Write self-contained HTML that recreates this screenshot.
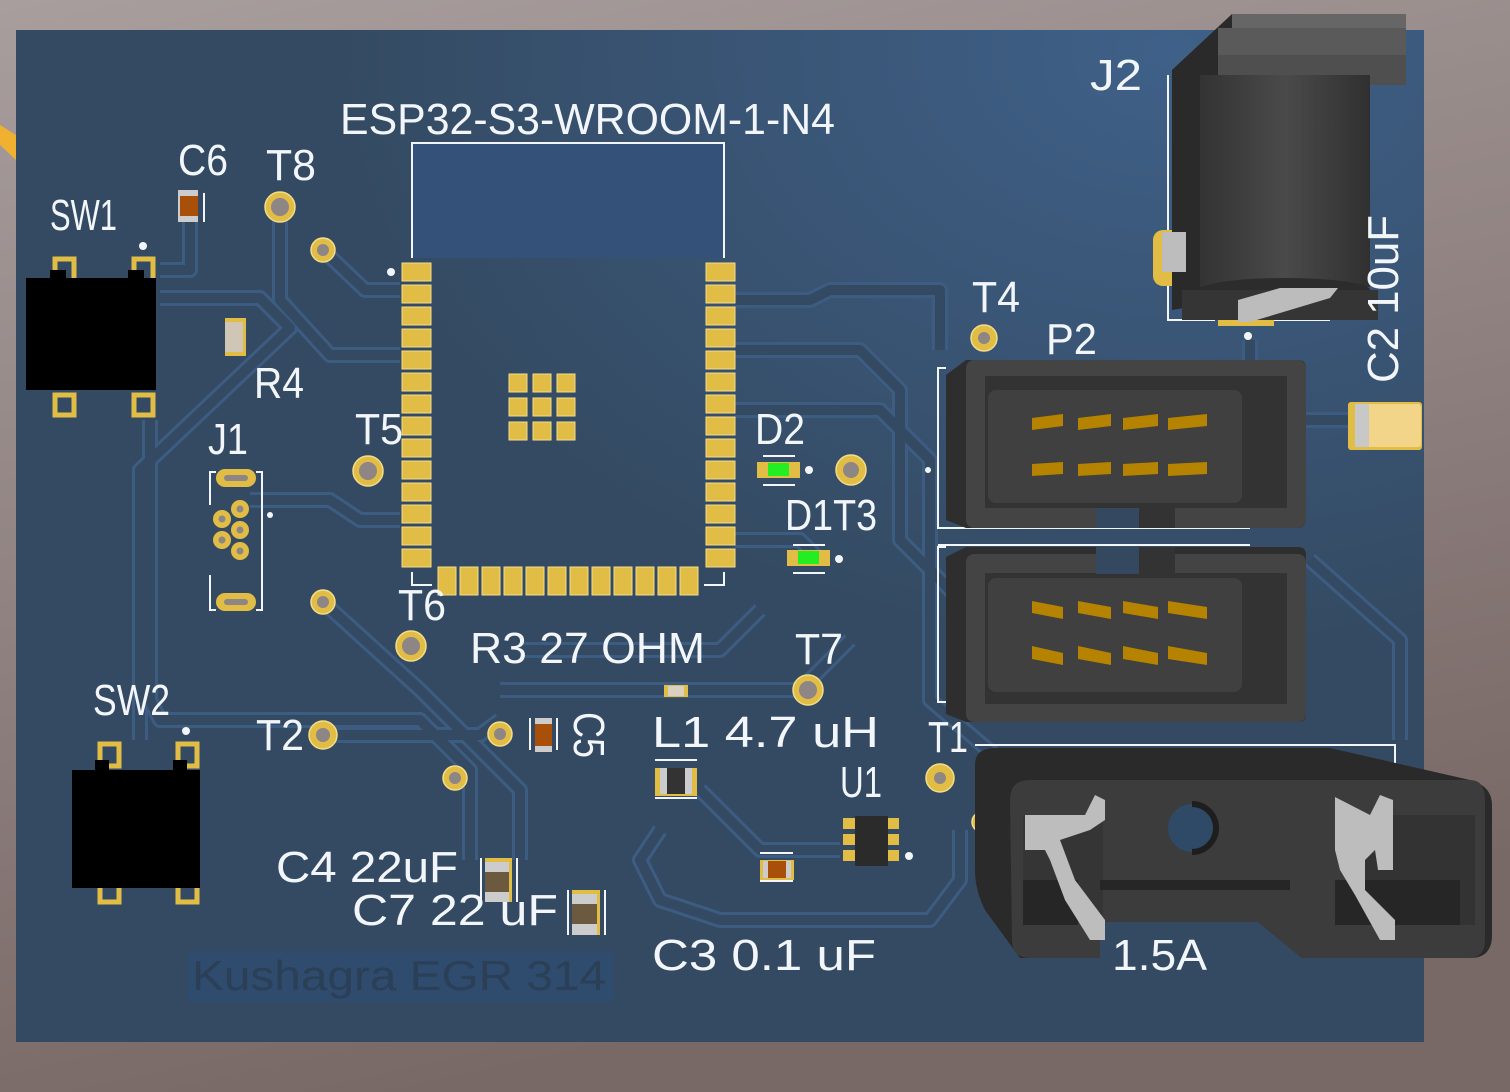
<!DOCTYPE html>
<html><head><meta charset="utf-8"><style>
html,body{margin:0;padding:0;width:1510px;height:1092px;overflow:hidden;background:#8e7f7e}
svg{display:block}
.s{font-family:"Liberation Sans",sans-serif;font-size:44px;fill:#f2f6fa}
.tr{fill:none;stroke:#3d5c82;stroke-width:16;stroke-linejoin:round}
.tri{fill:none;stroke:#344a63;stroke-width:10;stroke-linejoin:round}
</style></head><body>
<svg width="1510" height="1092" viewBox="0 0 1510 1092" xmlns="http://www.w3.org/2000/svg">
<defs>
<linearGradient id="bg" x1="0" y1="0" x2="0.3" y2="1"><stop offset="0" stop-color="#a89e9d"/><stop offset="1" stop-color="#786866"/></linearGradient>
<radialGradient id="brd" cx="0.82" cy="0.02" r="0.6"><stop offset="0" stop-color="#3f6088"/><stop offset="1" stop-color="#344a62"/></radialGradient>
<linearGradient id="cyl" x1="0" y1="0" x2="1" y2="0"><stop offset="0" stop-color="#333"/><stop offset="0.5" stop-color="#4a4a4a"/><stop offset="1" stop-color="#303030"/></linearGradient>
</defs>
<rect width="1510" height="1092" fill="url(#bg)"/>
<polygon points="0,125 16,135 16,160 0,145" fill="#f0b030"/>
<rect x="16" y="30" width="1408" height="1012" fill="url(#brd)"/>

<!-- traces -->
<g>
<path class="tr" d="M160,270 H190 V200 M160,298 H260 L290,328 L140,470 V740 M280,215 V300 L330,355 H400 M323,250 L365,290 H400 M150,420 L150,460 V700 L160,720 H420 L470,770 V860 M250,500 H330 L360,520 L400,520 M323,602 L420,690 L500,770 L520,790 V860 M323,735 H480 L500,720 M735,300 H810 L830,290 H940 V350 M735,350 H860 L900,390 V540 L960,600 M735,410 H880 L930,460 V700 L1000,760 M735,540 H800 L820,560 M500,690 H800 L850,640 M660,830 L640,860 L660,900 L720,920 H930 L960,880 V830 M700,790 L760,850 H840 M520,650 H720 L760,610 M1250,340 V360 M1306,420 H1350 M1310,560 L1400,640 V740"/>
<path class="tri" d="M160,270 H190 V200 M160,298 H260 L290,328 L140,470 V740 M280,215 V300 L330,355 H400 M323,250 L365,290 H400 M150,420 L150,460 V700 L160,720 H420 L470,770 V860 M250,500 H330 L360,520 L400,520 M323,602 L420,690 L500,770 L520,790 V860 M323,735 H480 L500,720 M735,300 H810 L830,290 H940 V350 M735,350 H860 L900,390 V540 L960,600 M735,410 H880 L930,460 V700 L1000,760 M735,540 H800 L820,560 M500,690 H800 L850,640 M660,830 L640,860 L660,900 L720,920 H930 L960,880 V830 M700,790 L760,850 H840 M520,650 H720 L760,610 M1250,340 V360 M1306,420 H1350 M1310,560 L1400,640 V740"/>
</g>

<rect x="188" y="951" width="426" height="51" fill="#2f4b6e"/>
<text x="192" y="990" font-family="Liberation Sans,sans-serif" font-size="42" fill="#2b3f56" textLength="414" lengthAdjust="spacingAndGlyphs">Kushagra EGR 314</text>

<!-- ESP module -->
<rect x="413" y="144" width="311" height="114" fill="#335179"/>
<path d="M412,258 V143 H724 V258" fill="none" stroke="#f2f6fa" stroke-width="2"/>
<path d="M412,572 V585 H432 M724,572 V585 H704" fill="none" stroke="#f2f6fa" stroke-width="2"/>
<g fill="#e2bd45" stroke="#f3dd8a" stroke-width="1">
<rect x="402" y="263" width="29" height="18"/><rect x="402" y="285" width="29" height="18"/><rect x="402" y="307" width="29" height="18"/><rect x="402" y="329" width="29" height="18"/><rect x="402" y="351" width="29" height="18"/><rect x="402" y="373" width="29" height="18"/><rect x="402" y="395" width="29" height="18"/><rect x="402" y="417" width="29" height="18"/><rect x="402" y="439" width="29" height="18"/><rect x="402" y="461" width="29" height="18"/><rect x="402" y="483" width="29" height="18"/><rect x="402" y="505" width="29" height="18"/><rect x="402" y="527" width="29" height="18"/><rect x="402" y="549" width="29" height="18"/>
<rect x="706" y="263" width="29" height="18"/><rect x="706" y="285" width="29" height="18"/><rect x="706" y="307" width="29" height="18"/><rect x="706" y="329" width="29" height="18"/><rect x="706" y="351" width="29" height="18"/><rect x="706" y="373" width="29" height="18"/><rect x="706" y="395" width="29" height="18"/><rect x="706" y="417" width="29" height="18"/><rect x="706" y="439" width="29" height="18"/><rect x="706" y="461" width="29" height="18"/><rect x="706" y="483" width="29" height="18"/><rect x="706" y="505" width="29" height="18"/><rect x="706" y="527" width="29" height="18"/><rect x="706" y="549" width="29" height="18"/>
<rect x="438" y="567" width="18" height="28"/><rect x="460" y="567" width="18" height="28"/><rect x="482" y="567" width="18" height="28"/><rect x="504" y="567" width="18" height="28"/><rect x="526" y="567" width="18" height="28"/><rect x="548" y="567" width="18" height="28"/><rect x="570" y="567" width="18" height="28"/><rect x="592" y="567" width="18" height="28"/><rect x="614" y="567" width="18" height="28"/><rect x="636" y="567" width="18" height="28"/><rect x="658" y="567" width="18" height="28"/><rect x="680" y="567" width="18" height="28"/>
<rect x="509" y="374" width="18" height="18"/><rect x="533" y="374" width="18" height="18"/><rect x="557" y="374" width="18" height="18"/>
<rect x="509" y="398" width="18" height="18"/><rect x="533" y="398" width="18" height="18"/><rect x="557" y="398" width="18" height="18"/>
<rect x="509" y="422" width="18" height="18"/><rect x="533" y="422" width="18" height="18"/><rect x="557" y="422" width="18" height="18"/>
</g>
<circle cx="391" cy="272" r="4" fill="#f2f6fa"/>

<g fill="#e2bd45" stroke="#f3dd8a" stroke-width="1.5">
<circle cx="280" cy="207" r="15"/><circle cx="323" cy="250" r="12"/><circle cx="368" cy="471" r="15"/><circle cx="323" cy="602" r="12"/><circle cx="411" cy="646" r="15"/><circle cx="808" cy="690" r="15"/><circle cx="851" cy="470" r="15"/><circle cx="984" cy="338" r="13"/><circle cx="323" cy="735" r="14"/><circle cx="500" cy="734" r="12"/><circle cx="455" cy="778" r="12"/><circle cx="940" cy="778" r="14"/><circle cx="982" cy="822" r="10"/>
</g>
<g fill="#8e8585">
<circle cx="280" cy="207" r="9"/><circle cx="323" cy="250" r="6"/><circle cx="368" cy="471" r="9"/><circle cx="323" cy="602" r="6"/><circle cx="411" cy="646" r="9"/><circle cx="808" cy="690" r="9"/><circle cx="851" cy="470" r="8"/><circle cx="984" cy="338" r="6"/><circle cx="323" cy="735" r="7"/><circle cx="500" cy="734" r="6"/><circle cx="455" cy="778" r="6"/><circle cx="940" cy="778" r="6"/>
</g>

<!-- switches -->
<g fill="none" stroke="#e2bd45" stroke-width="5">
<rect x="55" y="259" width="19" height="22"/><rect x="134" y="259" width="19" height="22"/><rect x="55" y="395" width="19" height="20"/><rect x="134" y="395" width="19" height="20"/>
<rect x="100" y="744" width="19" height="22"/><rect x="178" y="744" width="19" height="22"/><rect x="100" y="882" width="19" height="20"/><rect x="178" y="882" width="19" height="20"/>
</g>
<rect x="26" y="278" width="130" height="112" fill="#000"/>
<rect x="50" y="270" width="16" height="12" fill="#000"/><rect x="128" y="270" width="16" height="12" fill="#000"/>
<rect x="72" y="770" width="128" height="118" fill="#000"/>
<rect x="95" y="760" width="14" height="14" fill="#000"/><rect x="173" y="760" width="14" height="14" fill="#000"/>
<circle cx="143" cy="246" r="4" fill="#f2f6fa"/><circle cx="186" cy="731" r="4" fill="#f2f6fa"/>

<!-- J1 -->
<path d="M216,472 H210 V505 M216,610 H210 V575 M256,472 H262 V610 H256" fill="none" stroke="#f2f6fa" stroke-width="2"/>
<g fill="#e2bd45"><rect x="216" y="469" width="40" height="18" rx="9"/><rect x="216" y="593" width="40" height="18" rx="9"/>
<circle cx="240" cy="509" r="9"/><circle cx="222" cy="519" r="9"/><circle cx="240" cy="530" r="9"/><circle cx="222" cy="540" r="9"/><circle cx="240" cy="551" r="9"/></g>
<g fill="#8e8585"><rect x="224" y="475" width="24" height="6" rx="3"/><rect x="224" y="599" width="24" height="6" rx="3"/>
<circle cx="240" cy="509" r="3.5"/><circle cx="222" cy="519" r="3.5"/><circle cx="240" cy="530" r="3.5"/><circle cx="222" cy="540" r="3.5"/><circle cx="240" cy="551" r="3.5"/></g>
<circle cx="270" cy="515" r="3" fill="#f2f6fa"/>

<!-- small SMD parts -->
<path d="M204,193 V222" stroke="#f2f6fa" stroke-width="2"/>
<rect x="178" y="190" width="20" height="32" fill="#ccc"/><rect x="180" y="196" width="18" height="20" fill="#a8500a"/>
<rect x="225" y="318" width="21" height="38" fill="#e2bd45"/><rect x="225" y="322" width="18" height="30" fill="#cfc6b5"/>
<rect x="664" y="685" width="24" height="12" fill="#e2bd45"/><rect x="668" y="686" width="16" height="10" fill="#d9d0c0"/>
<path d="M530,718 V750 M557,718 V750" stroke="#f2f6fa" stroke-width="2"/>
<rect x="535" y="718" width="17" height="34" fill="#ccc"/><rect x="535" y="724" width="17" height="22" fill="#a8500a"/>
<path d="M655,760 H697 M655,798 H697" stroke="#f2f6fa" stroke-width="2"/>
<rect x="655" y="768" width="42" height="28" fill="#e2bd45"/><rect x="660" y="768" width="32" height="26" fill="#ccc"/><rect x="667" y="768" width="18" height="26" fill="#333"/>
<path d="M760,853 H793 M760,881 H793" stroke="#f2f6fa" stroke-width="2"/>
<rect x="760" y="860" width="34" height="20" fill="#e2bd45"/><rect x="763" y="861" width="28" height="17" fill="#ccc"/><rect x="768" y="861" width="18" height="17" fill="#a8500a"/>
<g fill="#e2bd45"><rect x="843" y="818" width="14" height="11"/><rect x="843" y="834" width="14" height="11"/><rect x="843" y="850" width="14" height="11"/><rect x="885" y="818" width="14" height="11"/><rect x="885" y="834" width="14" height="11"/><rect x="885" y="850" width="14" height="11"/></g>
<rect x="855" y="816" width="33" height="50" fill="#2b2b2b"/>
<circle cx="909" cy="856" r="4" fill="#f2f6fa"/>
<path d="M481,858 V902 M517,858 V902 M568,890 V935 M605,890 V935" stroke="#f2f6fa" stroke-width="2"/>
<rect x="485" y="858" width="27" height="44" fill="#e2bd45"/><rect x="485" y="862" width="24" height="40" fill="#ccc"/><rect x="485" y="872" width="24" height="20" fill="#6b5a40"/>
<rect x="572" y="890" width="28" height="45" fill="#e2bd45"/><rect x="572" y="894" width="25" height="41" fill="#ccc"/><rect x="572" y="904" width="25" height="20" fill="#6b5a40"/>
<path d="M763,456 H795 M763,485 H795 M793,545 H825 M793,573 H825" stroke="#f2f6fa" stroke-width="2"/>
<rect x="757" y="462" width="43" height="16" fill="#e2bd45"/><rect x="768" y="463" width="21" height="13" fill="#22ee22"/>
<rect x="787" y="550" width="43" height="16" fill="#e2bd45"/><rect x="798" y="551" width="21" height="13" fill="#22ee22"/>
<circle cx="809" cy="470" r="4" fill="#f2f6fa"/><circle cx="839" cy="559" r="4" fill="#f2f6fa"/><circle cx="928" cy="470" r="3" fill="#f2f6fa"/><circle cx="1248" cy="336" r="4" fill="#f2f6fa"/>

<path d="M946,368 H938 V528 H1250 M946,547 H938 V702 H946" fill="none" stroke="#f2f6fa" stroke-width="2"/>
<path d="M1250,545 H938" stroke="#f2f6fa" stroke-width="2"/>
<path d="M1300,630 V660" stroke="#f2f6fa" stroke-width="3"/>

<!-- P2 connector -->
<g>
<path d="M946,375 L966,360 H1298 Q1306,360 1306,368 V518 Q1306,528 1298,528 H966 L946,520 Z" fill="#2e2e2e"/>
<rect x="966" y="360" width="340" height="168" rx="8" fill="#444"/>
<rect x="985" y="376" width="302" height="132" fill="#333"/>
<rect x="988" y="390" width="254" height="113" rx="8" fill="#404040"/>
<rect x="1096" y="508" width="43" height="20" fill="#34495f"/><rect x="1139" y="508" width="36" height="20" fill="#333"/>
</g>
<g>
<path d="M946,557 L966,547 H1298 Q1306,547 1306,555 V714 Q1306,722 1298,722 H966 L946,714 Z" fill="#2e2e2e"/>
<rect x="966" y="554" width="340" height="168" rx="8" fill="#444"/>
<rect x="985" y="573" width="302" height="131" fill="#333"/>
<rect x="988" y="578" width="254" height="114" rx="8" fill="#404040"/>
<rect x="1096" y="547" width="43" height="27" fill="#34495f"/><rect x="1139" y="547" width="36" height="27" fill="#333"/>
</g>
<g fill="#b58300">
<polygon points="1032,418 1063,414 1063,426 1032,430"/><polygon points="1078,418 1111,414 1111,426 1078,430"/><polygon points="1123,418 1158,414 1158,426 1123,430"/><polygon points="1168,418 1207,414 1207,426 1168,430"/>
<polygon points="1032,464 1063,462 1063,474 1032,476"/><polygon points="1078,464 1111,462 1111,474 1078,476"/><polygon points="1123,464 1158,462 1158,474 1123,476"/><polygon points="1168,464 1207,462 1207,474 1168,476"/>
<polygon points="1032,601 1063,607 1063,619 1032,613"/><polygon points="1078,601 1111,607 1111,619 1078,613"/><polygon points="1123,601 1158,607 1158,619 1123,613"/><polygon points="1168,601 1207,607 1207,619 1168,613"/>
<polygon points="1032,646 1063,653 1063,665 1032,659"/><polygon points="1078,646 1111,653 1111,665 1078,659"/><polygon points="1123,646 1158,653 1158,665 1123,659"/><polygon points="1168,646 1207,653 1207,665 1168,659"/>
</g>

<!-- C2 -->
<rect x="1348" y="402" width="74" height="48" rx="3" fill="#e2bd45"/>
<rect x="1355" y="404" width="66" height="43" rx="3" fill="#f3d58a"/><rect x="1355" y="404" width="14" height="43" fill="#c8c8c8"/>

<!-- J2 -->
<path d="M1168,75 V320 H1215 M1270,320 H1330" fill="none" stroke="#f2f6fa" stroke-width="2"/>
<rect x="1153" y="230" width="28" height="56" rx="10" fill="#e2bd45"/>
<rect x="1218" y="318" width="56" height="8" fill="#e2bd45"/>
<polygon points="1172,70 1232,14 1232,300 1172,310" fill="#2a2a2a"/>
<rect x="1232" y="14" width="174" height="16" fill="#666"/>
<rect x="1218" y="28" width="188" height="28" fill="#5a5a5a"/>
<rect x="1218" y="55" width="188" height="30" fill="#4f4f4f"/>
<rect x="1200" y="75" width="170" height="212" fill="url(#cyl)"/>
<ellipse cx="1285" cy="290" rx="85" ry="12" fill="#2c2c2c"/>
<rect x="1182" y="290" width="196" height="30" fill="#353535"/>
<polygon points="1238,300 1280,288 1338,288 1330,298 1250,322 1238,322" fill="#bcbcbc"/>
<rect x="1162" y="232" width="24" height="40" fill="#bdbdbd"/>

<text class="s" x="1112" y="970" textLength="95" lengthAdjust="spacingAndGlyphs">1.5A</text>
<!-- fuse holder -->
<path d="M975,745 H1395 V900" fill="none" stroke="#f2f6fa" stroke-width="2"/>
<path d="M975,765 Q975,748 995,748 H1330 L1470,780 Q1492,786 1492,805 V935 Q1492,958 1470,958 H1302 L1258,922 H1100 V958 H1020 L985,910 Q975,890 975,870 Z" fill="#2a2a2a"/>
<path d="M1010,800 Q1010,780 1030,780 H1470 Q1485,780 1485,800 V940 Q1485,958 1468,958 H1302 L1258,922 H1100 V958 H1030 Q1012,958 1012,940 Z" fill="#3c3c3c"/>
<rect x="1023" y="815" width="80" height="100" fill="#2a2a2a" opacity="0.4"/>
<rect x="1355" y="815" width="120" height="110" fill="#333"/>
<rect x="1023" y="880" width="55" height="45" fill="#262626"/>
<rect x="1335" y="880" width="125" height="45" fill="#262626"/>
<rect x="1100" y="880" width="190" height="10" fill="#262626"/>
<circle cx="1192" cy="828" r="24" fill="#2f4a66"/>
<path d="M1192,804 A24,24 0 0 1 1192,852" fill="none" stroke="#1e1e1e" stroke-width="6"/>
<g fill="#bdbdbd">
<polygon points="1025,815 1085,815 1095,795 1105,800 1105,820 1090,830 1060,840 1075,880 1105,920 1105,940 1090,940 1065,900 1050,860 1045,850 1025,850"/>
<polygon points="1335,797 1370,815 1380,795 1393,800 1393,870 1378,870 1375,850 1365,860 1365,890 1395,920 1395,940 1380,940 1355,895 1340,870 1335,850"/>
</g>

<!-- silkscreen labels -->
<text class="s" x="340" y="134" textLength="495" lengthAdjust="spacingAndGlyphs">ESP32-S3-WROOM-1-N4</text>
<text class="s" x="178" y="175" textLength="50" lengthAdjust="spacingAndGlyphs">C6</text>
<text class="s" x="266" y="180" textLength="50" lengthAdjust="spacingAndGlyphs">T8</text>
<text class="s" x="50" y="230" textLength="67" lengthAdjust="spacingAndGlyphs">SW1</text>
<text class="s" x="254" y="398" textLength="50" lengthAdjust="spacingAndGlyphs">R4</text>
<text class="s" x="208" y="454" textLength="40" lengthAdjust="spacingAndGlyphs">J1</text>
<text class="s" x="355" y="444" textLength="48" lengthAdjust="spacingAndGlyphs">T5</text>
<text class="s" x="398" y="620" textLength="48" lengthAdjust="spacingAndGlyphs">T6</text>
<text class="s" x="470" y="663" textLength="235" lengthAdjust="spacingAndGlyphs">R3 27 OHM</text>
<text class="s" x="795" y="664" textLength="48" lengthAdjust="spacingAndGlyphs">T7</text>
<text class="s" x="755" y="444" textLength="50" lengthAdjust="spacingAndGlyphs">D2</text>
<text class="s" x="785" y="530" textLength="92" lengthAdjust="spacingAndGlyphs">D1T3</text>
<text class="s" x="1090" y="90" textLength="52" lengthAdjust="spacingAndGlyphs">J2</text>
<text class="s" x="972" y="312" textLength="48" lengthAdjust="spacingAndGlyphs">T4</text>
<text class="s" x="1046" y="354" textLength="51" lengthAdjust="spacingAndGlyphs">P2</text>
<text class="s" x="93" y="715" textLength="77" lengthAdjust="spacingAndGlyphs">SW2</text>
<text class="s" x="256" y="750" textLength="48" lengthAdjust="spacingAndGlyphs">T2</text>
<text class="s" x="652" y="747" textLength="227" lengthAdjust="spacingAndGlyphs">L1 4.7 uH</text>
<text class="s" x="840" y="797" textLength="42" lengthAdjust="spacingAndGlyphs">U1</text>
<text class="s" x="928" y="752" textLength="40" lengthAdjust="spacingAndGlyphs">T1</text>
<text class="s" x="276" y="882" textLength="182" lengthAdjust="spacingAndGlyphs">C4 22uF</text>
<text class="s" x="352" y="925" textLength="206" lengthAdjust="spacingAndGlyphs">C7 22 uF</text>
<text class="s" x="652" y="970" textLength="224" lengthAdjust="spacingAndGlyphs">C3 0.1 uF</text>
<text class="s" transform="translate(574,712) rotate(90)" textLength="46" lengthAdjust="spacingAndGlyphs">C5</text>
<text class="s" transform="translate(1398,383) rotate(-90)" textLength="168" lengthAdjust="spacingAndGlyphs">C2 10uF</text>
</svg>
</body></html>
